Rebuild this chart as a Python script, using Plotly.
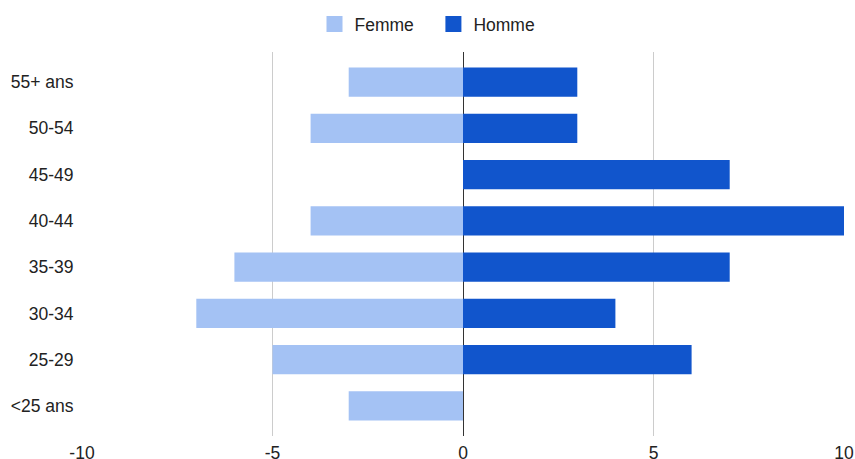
import plotly.graph_objects as go

categories = ["<25 ans", "25-29", "30-34", "35-39", "40-44", "45-49", "50-54", "55+ ans"]
femme = [-3, -5, -7, -6, -4, 0, -4, -3]
homme = [0, 6, 4, 7, 10, 7, 3, 3]
tick_vals = [-10, -5, 0, 5, 10]
tick_text = ["-10", "-5", "0", "5", "10"]
series_names = ["Femme", "Homme"]
series_colors = ["#a4c2f4", "#1155cc"]

font_family = "Liberation Sans, Arial, sans-serif"
fs = 17.5

fig = go.Figure()
for i, (name, vals, col) in enumerate(zip(series_names, [femme, homme], series_colors)):
    fig.add_trace(go.Bar(y=categories, x=vals, orientation="h", name=name,
                         marker=dict(color=col, line=dict(width=0)), showlegend=False))
    label = name + ("\u00a0\u00a0\u00a0" if i == 0 else "")
    fig.add_trace(go.Scatter(x=[None], y=[None], mode="markers", name=label,
                             marker=dict(symbol="square", size=18, color=col)))

fig.update_layout(
    width=855, height=459,
    barmode="relative",
    bargap=0.37,
    paper_bgcolor="white", plot_bgcolor="white",
    margin=dict(l=82, r=11, t=52, b=23),
    font=dict(family=font_family, size=fs, color="#222222"),
    legend=dict(orientation="h", xref="container", x=0.5, xanchor="center",
                yref="container", y=1 - 6 / 459, yanchor="top",
                font=dict(size=fs, color="#222222"), itemwidth=30,
                traceorder="normal", tracegroupgap=0),
    xaxis=dict(range=[-10, 10], tickvals=tick_vals, ticktext=tick_text, automargin=False,
               showgrid=True, gridcolor="#cccccc", gridwidth=1,
               zeroline=True, zerolinecolor="#333333", zerolinewidth=1,
               showline=False, ticks="outside", ticklen=1, tickcolor="rgba(0,0,0,0)",
               tickfont=dict(size=fs, color="#222222")),
    yaxis=dict(type="category", categoryorder="array", categoryarray=categories,
               range=[-0.65, 7.65], showgrid=False, zeroline=False, showline=False,
               automargin=False,
               ticks="outside", ticklen=4, tickcolor="rgba(0,0,0,0)",
               tickfont=dict(size=fs, color="#222222")),
)

fig.write_html("out.html")
